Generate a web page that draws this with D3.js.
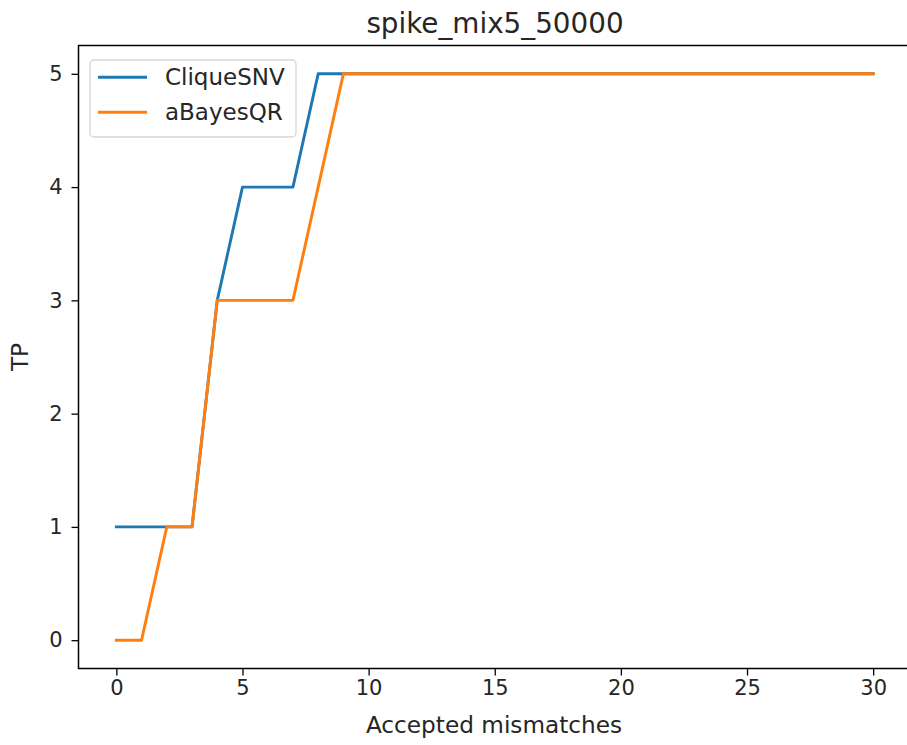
<!DOCTYPE html>
<html>
  <head>
    <meta charset="utf-8">
    <title>spike_mix5_50000</title>
    <script src="https://cdn.jsdelivr.net/npm/d3@7"></script>
    <style type="text/css">
      body { margin: 0; background: #fff; }
      text { font-family: "DejaVu Sans", sans-serif; fill: #262626; }
    </style>
  </head>
  <body>
    <script>
    // data
    var mismatches = d3.range(0, 31);
    var cliqueSNV = [1, 1, 1, 1, 3, 4, 4, 4, 5, 5, 5, 5, 5, 5, 5, 5, 5, 5, 5, 5, 5, 5, 5, 5, 5, 5, 5, 5, 5, 5, 5];
    var aBayesQR  = [0, 0, 1, 1, 3, 3, 3, 3, 4, 5, 5, 5, 5, 5, 5, 5, 5, 5, 5, 5, 5, 5, 5, 5, 5, 5, 5, 5, 5, 5, 5];
    var xTicks = [0, 5, 10, 15, 20, 25, 30];
    var yTicks = [0, 1, 2, 3, 4, 5];
    var seriesNames = ["CliqueSNV", "aBayesQR"];
    var colors = ["#1f77b4", "#ff7f0e"];

    var svgWidth = 907, svgHeight = 745;
    // plot area edges (right edge runs past the window, as in the reference)
    var plotLeft = 78.5, plotRight = 911, plotTop = 45.5, plotBottom = 668.5;

    var svg = d3.select("body").append("svg")
        .attr("width", svgWidth)
        .attr("height", svgHeight);

    var xScale = d3.scaleLinear().domain([-1.5, 31.5]).range([plotLeft, plotRight]);
    var yScale = d3.scaleLinear().domain([-0.25, 5.25]).range([plotBottom, plotTop]);

    // axes
    var xAxis = svg.append("g")
        .attr("transform", "translate(0," + plotBottom + ")")
        .call(d3.axisBottom(xScale).tickValues(xTicks).tickFormat(d3.format("d"))
          .tickSize(7).tickPadding(5));
    var yAxis = svg.append("g")
        .attr("transform", "translate(" + plotLeft + ",0)")
        .call(d3.axisLeft(yScale).tickValues(yTicks).tickFormat(d3.format("d"))
          .tickSize(7).tickPadding(9));

    [xAxis, yAxis].forEach(function(ax) {
      ax.select(".domain").remove();
      ax.selectAll("line").attr("stroke", "#000").attr("stroke-width", 1.3);
      ax.selectAll("text").attr("font-size", "21px")
        .attr("font-family", "DejaVu Sans, sans-serif").attr("fill", "#262626");
    });

    // lines
    var series = [cliqueSNV, aBayesQR];
    var line = d3.line()
        .x(function(d, i) { return xScale(mismatches[i]); })
        .y(function(d) { return yScale(d); });

    svg.selectAll("path.series")
      .data(series)
      .enter()
      .append("path")
      .attr("class", "series")
      .attr("d", line)
      .attr("fill", "none")
      .attr("stroke", function(d, i) { return colors[i]; })
      .attr("stroke-width", 2.9)
      .attr("stroke-linejoin", "round")
      .attr("stroke-linecap", "square");

    // frame
    svg.append("rect")
        .attr("x", plotLeft).attr("y", plotTop)
        .attr("width", plotRight - plotLeft).attr("height", plotBottom - plotTop)
        .attr("fill", "none")
        .attr("stroke", "#000")
        .attr("stroke-width", 1.5);

    // titles
    svg.append("text")
        .attr("x", 495)
        .attr("y", 33)
        .attr("text-anchor", "middle")
        .attr("font-size", "27.8px")
        .text("spike_mix5_50000");

    svg.append("text")
        .attr("x", 494)
        .attr("y", 733)
        .attr("text-anchor", "middle")
        .attr("font-size", "23.2px")
        .text("Accepted mismatches");

    svg.append("text")
        .attr("transform", "translate(28," + ((plotTop + plotBottom) / 2) + ") rotate(-90)")
        .attr("text-anchor", "middle")
        .attr("font-size", "23.2px")
        .text("TP");

    // legend
    var legend = svg.append("g").attr("transform", "translate(90,60)");
    legend.append("rect")
        .attr("width", 206).attr("height", 77)
        .attr("rx", 4).attr("ry", 4)
        .attr("fill", "#fff").attr("fill-opacity", 0.8)
        .attr("stroke", "#d6d6d6").attr("stroke-width", 1.3);

    var items = legend.selectAll("g.item")
      .data(seriesNames)
      .enter()
      .append("g")
      .attr("class", "item")
      .attr("transform", function(d, i) { return "translate(0," + (17.3 + i * 35) + ")"; });

    items.append("line")
        .attr("x1", 8).attr("x2", 57)
        .attr("stroke", function(d, i) { return colors[i]; })
        .attr("stroke-width", 2.9);

    items.append("text")
        .attr("x", 75).attr("y", 8)
        .attr("font-size", "23px")
        .text(function(d) { return d; });
    </script>
  </body>
</html>
